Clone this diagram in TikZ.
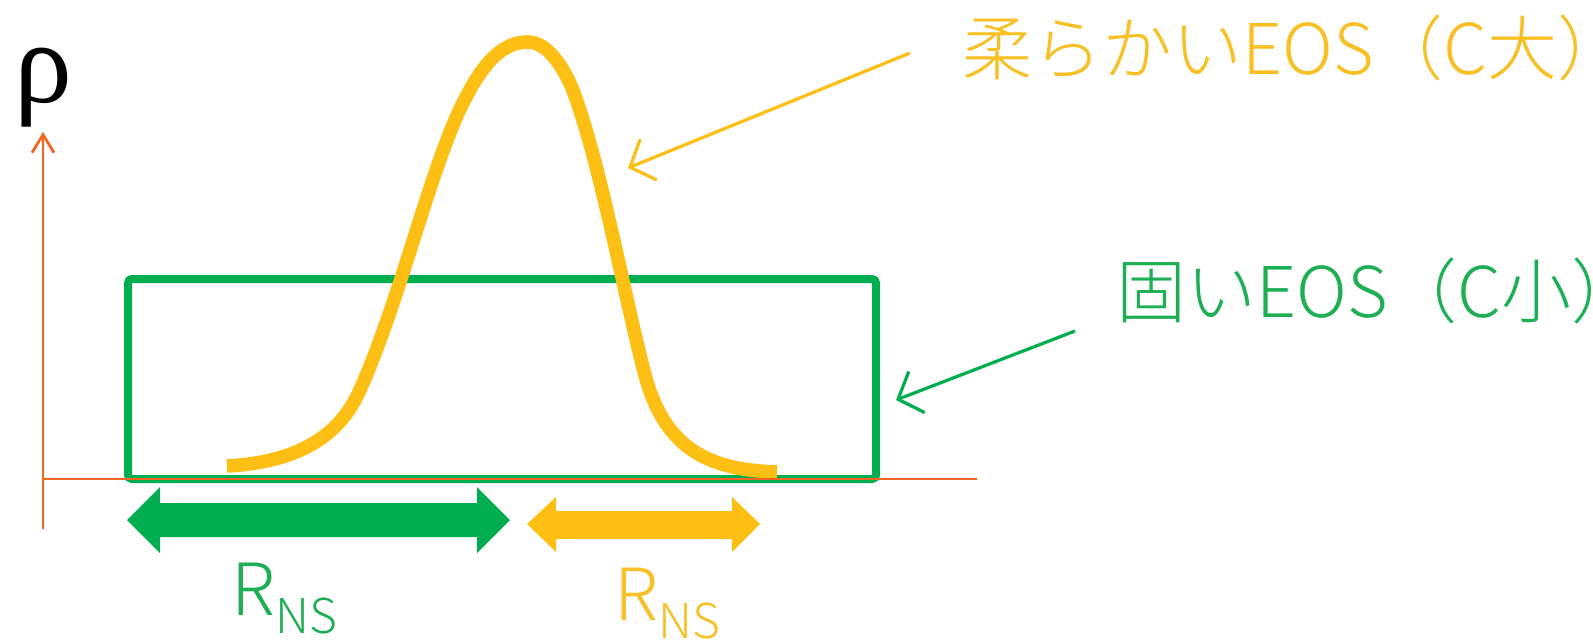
\documentclass[tikz,border=0pt]{standalone}
\usepackage{fontspec}
\setmainfont{Noto Sans CJK JP}[UprightFont={* Light}]
\newfontfamily\rhofont{Liberation Serif}
\usetikzlibrary{arrows.meta}
\definecolor{axisorange}{RGB}{242,101,34}
\definecolor{eosgreen}{RGB}{0,173,79}
\definecolor{eosyellow}{RGB}{253,191,20}
\definecolor{greentext}{RGB}{30,175,85}
\definecolor{yellowtext}{RGB}{248,192,36}

\begin{document}
\begin{tikzpicture}[x=0.5pt,y=-0.5pt,
  axisline/.style={draw=axisorange,line width=1.4pt},
  hardbox/.style={draw=eosgreen,line width=4pt,rounded corners=2pt},
  softcurve/.style={draw=eosyellow,line width=6.8pt},
  pointer/.style={line width=1.6pt,-{Straight Barb[length=10pt,width=22pt]}},
  eostext/.style={inner sep=0pt,anchor=west,font=\fontsize{35}{35}\selectfont},
  rns/.style={inner sep=0pt,anchor=base west,font=\fontsize{36}{36}\selectfont}]
\useasboundingbox (0,0) rectangle (1593,643);
\node[inner sep=0pt] (rho) at (43,88) {\rhofont\fontsize{58}{58}\selectfont ρ};
\coordinate (origin) at (43,479);
\coordinate (ybottom) at (43,529);
\coordinate (ytop) at (43,132);
\coordinate (xend) at (977,479);
% hard EOS: step
\draw[hardbox] (128,279) rectangle (876,479);
% soft EOS: smooth bump
\draw[softcurve] (227,466) .. controls (300,462) and (340,435) .. (360,390)
  .. controls (400,300) and (430,170) .. (462,105)
  .. controls (485,58) and (505,42) .. (528,42)
  .. controls (545,42) and (561,62) .. (572,88)
  .. controls (600,160) and (625,300) .. (645,375)
  .. controls (665,450) and (710,470) .. (777,472);
% axes
\draw[axisline,-{Straight Barb[length=9pt,width=11pt]}] (ybottom) -- (ytop);
\draw[axisline] (origin) -- (xend);
% ranges
\fill[eosgreen] (127,520) -- (160,487) -- (160,503) -- (477,503) -- (477,487) -- (510,520)
  -- (477,553) -- (477,537) -- (160,537) -- (160,553) -- cycle;
\fill[eosyellow] (527,524) -- (556,497) -- (556,511) -- (732,511) -- (732,497) -- (760,524)
  -- (732,552) -- (732,539) -- (556,539) -- (556,552) -- cycle;
\node[rns,text=greentext] (hardrns) at (231,615) {R\raisebox{-9pt}{\fontsize{24}{24}\selectfont NS}};
\node[rns,text=yellowtext] (softrns) at (614,620) {R\raisebox{-9pt}{\fontsize{24}{24}\selectfont NS}};
% labels
\node[eostext,text=yellowtext] (softlabel) at (962,48) {柔らかいEOS（C大）};
\node[eostext,text=greentext] (hardlabel) at (1116,291) {固いEOS（C小）};
\coordinate (softfrom) at (910,53);
\coordinate (softto) at (628,168);
\coordinate (hardfrom) at (1075,331);
\coordinate (hardto) at (896,400);
\draw[pointer,eosyellow] (softfrom) -- (softto);
\draw[pointer,eosgreen] (hardfrom) -- (hardto);
\end{tikzpicture}
\end{document}
